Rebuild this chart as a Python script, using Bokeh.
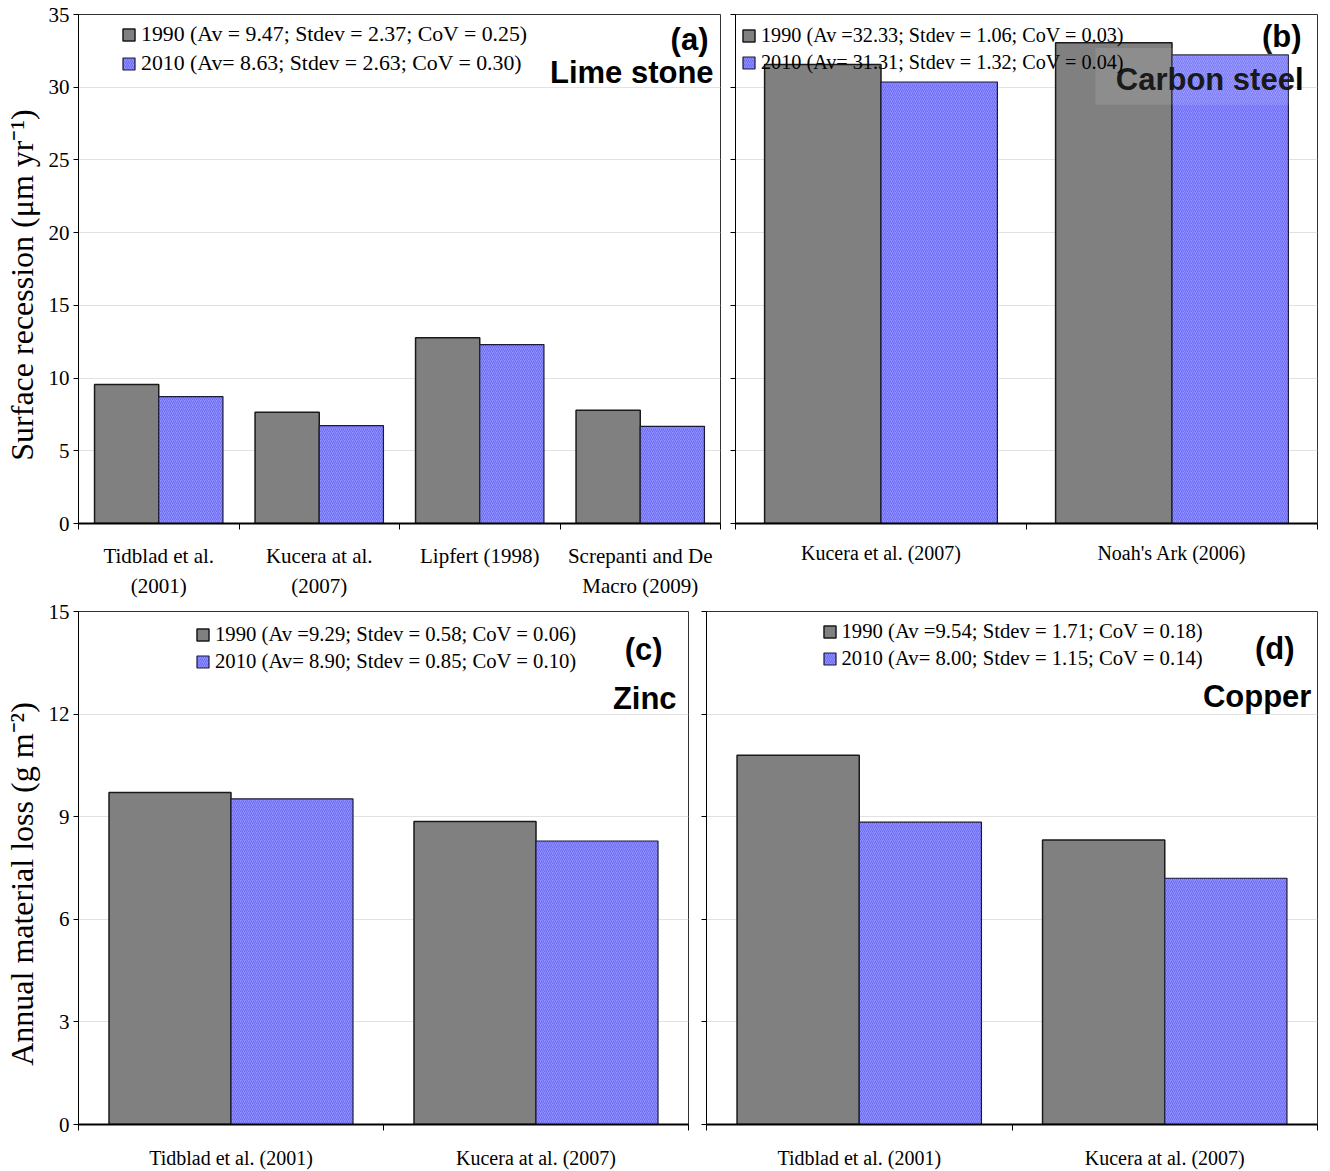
import numpy as np
from bokeh.plotting import figure
from bokeh.models import (Range1d, LinearAxis, FixedTicker,
                          Legend, LegendItem, Label, BoxAnnotation, ColumnDataSource)
from bokeh.core.properties import value
from bokeh.transform import dodge
from bokeh.layouts import column, row
from bokeh.embed import file_html
from bokeh.resources import INLINE

# ---------------- data ----------------
lime_refs = ["Tidblad et al.\n(2001)", "Kucera at al.\n(2007)", "Lipfert (1998)", "Screpanti and De\nMacro (2009)"]
lime_1990 = [9.55, 7.65, 12.78, 7.78]
lime_2010 = [8.73, 6.73, 12.30, 6.68]
lime_leg = ["1990 (Av = 9.47; Stdev = 2.37; CoV = 0.25)", "2010 (Av= 8.63; Stdev = 2.63; CoV = 0.30)"]

steel_refs = ["Kucera et al. (2007)", "Noah's Ark (2006)"]
steel_1990 = [31.56, 33.06]
steel_2010 = [30.36, 32.22]
steel_leg = ["1990 (Av =32.33; Stdev = 1.06; CoV = 0.03)", "2010 (Av= 31.31; Stdev = 1.32; CoV = 0.04)"]

zinc_refs = ["Tidblad et al. (2001)", "Kucera at al. (2007)"]
zinc_1990 = [9.71, 8.86]
zinc_2010 = [9.52, 8.29]
zinc_leg = ["1990 (Av =9.29; Stdev = 0.58; CoV = 0.06)", "2010 (Av= 8.90; Stdev = 0.85; CoV = 0.10)"]

copper_refs = ["Tidblad et al. (2001)", "Kucera at al. (2007)"]
copper_1990 = [10.80, 8.32]
copper_2010 = [8.84, 7.20]
copper_leg = ["1990 (Av =9.54; Stdev = 1.71; CoV = 0.18)", "2010 (Av= 8.00; Stdev = 1.15; CoV = 0.14)"]

top_ticks = [0, 5, 10, 15, 20, 25, 30, 35]
bottom_ticks = [0, 3, 6, 9, 12, 15]

SERIF = "Liberation Serif"
SANS = "Liberation Sans"
GRAY = "#808080"
BLUE = "#9090ff"
NBSP4 = "\u00a0" * 4


def make_panel(refs, v90, v10, legend_texts, y_end, yticks, fw, fh, mb, show_ylabels,
               ylabel, leg_loc, leg_font, leg_spacing, letter, letter_pos, name, name_pos,
               cat_standoff, cat_font="20px", cat_line_height=1.2):
    n = len(refs)
    centers = [i + 0.5 for i in range(n)]
    src = ColumnDataSource(dict(pos=centers, v90=v90, v10=v10))
    p = figure(x_range=Range1d(0, n), y_range=Range1d(0, y_end),
               frame_width=fw, frame_height=fh,
               min_border_left=mb[0], min_border_right=mb[1], min_border_top=mb[2], min_border_bottom=mb[3],
               x_axis_location=None, y_axis_location="left",
               output_backend="svg", toolbar_location=None)
    p.outline_line_color = "#333333"
    p.outline_line_width = 1
    p.xgrid.grid_line_color = None
    p.ygrid.grid_line_color = "#e2e2e2"
    p.ygrid.grid_line_width = 1

    yax = p.yaxis[0]
    yax.ticker = FixedTicker(ticks=yticks)
    yax.minor_tick_line_color = None
    yax.major_tick_out = 5
    yax.major_tick_in = 0
    yax.axis_line_color = "black"
    yax.major_tick_line_color = "black"
    if show_ylabels:
        yax.major_label_text_font = SERIF
        yax.major_label_text_font_size = "21px"
        yax.major_label_text_color = "black"
        yax.major_label_standoff = 4
        yax.axis_label = ylabel + NBSP4
        yax.axis_label_text_font = SERIF
        yax.axis_label_text_font_size = "32px"
        yax.axis_label_text_font_style = "normal"
        yax.axis_label_text_color = "black"
        yax.axis_label_standoff = 6
    else:
        yax.major_label_text_font_size = "0px"
        yax.major_label_text_color = None
        yax.major_label_standoff = 0

    r90 = p.vbar(x=dodge("pos", -0.2), top="v90", width=0.4, source=src,
                 fill_color=GRAY, line_color="#1a1a1a", line_width=1.5)
    r10 = p.vbar(x=dodge("pos", 0.2), top="v10", width=0.4, source=src,
                 fill_color=BLUE, line_color="#1a1a3a", line_width=1.2,
                 hatch_pattern="right_diagonal_line", hatch_color="#6a6af5",
                 hatch_scale=4, hatch_weight=1)

    tick_axis = LinearAxis(ticker=FixedTicker(ticks=list(range(n + 1))),
                           major_label_text_font_size="0px", major_label_text_color=None,
                           major_label_standoff=0,
                           major_tick_out=6, major_tick_in=0, minor_tick_line_color=None,
                           axis_line_width=2, axis_line_color="black", major_tick_line_color="black")
    p.add_layout(tick_axis, "below")
    cat_axis = LinearAxis(ticker=FixedTicker(ticks=centers),
                          major_label_overrides={c: r for c, r in zip(centers, refs)},
                          axis_line_color=None, major_tick_line_color=None, minor_tick_line_color=None,
                          major_tick_out=0, major_tick_in=0, major_label_standoff=cat_standoff,
                          major_label_text_font=SERIF, major_label_text_font_size=cat_font,
                          major_label_text_color="black",
                          major_label_text_line_height=cat_line_height)
    p.add_layout(cat_axis, "below")

    legend = Legend(items=[LegendItem(label=value(legend_texts[0]), renderers=[r90]),
                           LegendItem(label=value(legend_texts[1]), renderers=[r10])],
                    location=leg_loc, background_fill_alpha=0, border_line_color=None,
                    padding=0, margin=0, spacing=leg_spacing, glyph_width=15, glyph_height=15,
                    label_standoff=5, label_text_font=SERIF, label_text_font_size=leg_font,
                    label_height=20, label_text_color="black")
    p.add_layout(legend)

    p.add_layout(Label(x=letter_pos[0], y=letter_pos[1], text=letter,
                       text_font=SANS, text_font_style="bold", text_font_size="31px",
                       text_align="right", text_baseline="middle", text_color="black"))
    p.add_layout(Label(x=name_pos[0], y=name_pos[1], text=name,
                       text_font=SANS, text_font_style="bold", text_font_size="31px",
                       text_align="right", text_baseline="middle", text_color="black"))
    return p


pa = make_panel(lime_refs, lime_1990, lime_2010, lime_leg, 35, top_ticks,
                642, 509, (77, 7, 14, 76), True, "Surface recession (μm yr⁻¹)",
                (43, 447.5), "21.8px", 4, "(a)", (3.925, 33.28), "Lime stone", (3.957, 31.0),
                cat_standoff=14, cat_font="21px", cat_line_height=1.25)
pb = make_panel(steel_refs, steel_1990, steel_2010, steel_leg, 35, top_ticks,
                582, 509, (8, 1, 14, 76), False, None,
                (6, 449), "20.2px", 4, "(b)", (1.945, 33.49), "Carbon steel", (1.952, 30.52),
                cat_standoff=12)
pb.add_layout(BoxAnnotation(left=1.237, right=1.921, bottom=28.8, top=32.7,
                            fill_color="white", fill_alpha=0.1, line_color=None))
pc = make_panel(zinc_refs, zinc_1990, zinc_2010, zinc_leg, 15, bottom_ticks,
                610, 513, (77, 10, 11, 45), True, "Annual material loss (g m⁻²)",
                (117, 451), "20.7px", 4, "(c)", (1.915, 13.89), "Zinc", (1.961, 12.45),
                cat_standoff=16)
pd_ = make_panel(copper_refs, copper_1990, copper_2010, copper_leg, 15, bottom_ticks,
                 611, 513, (8, 1, 11, 45), False, None,
                 (115.5, 454), "20.7px", 4, "(d)", (1.925, 13.92), "Copper", (1.98, 12.51),
                 cat_standoff=16)

layout = column(row(pa, pb), row(pc, pd_))
open("out.html", "w").write(file_html(layout, INLINE))
